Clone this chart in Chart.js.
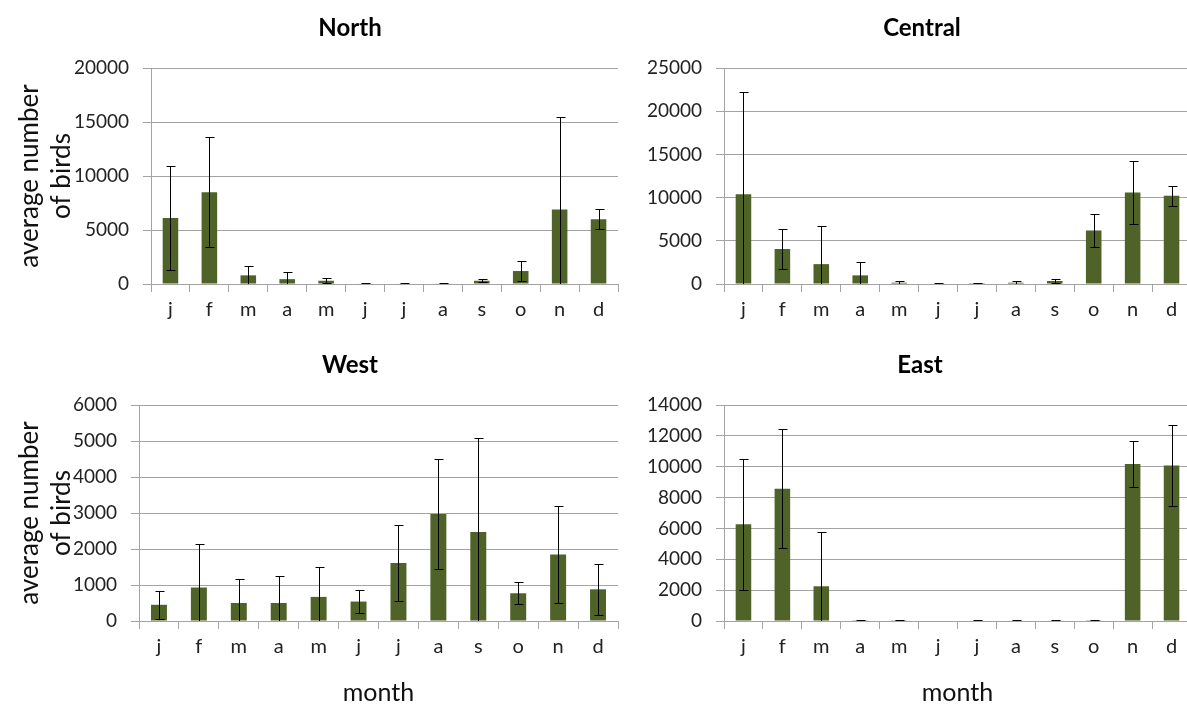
<!DOCTYPE html>
<html>
<head>
<meta charset="utf-8">
<script src="https://cdn.jsdelivr.net/npm/chart.js@4.4.1/dist/chart.umd.min.js"></script>
<style>
  html, body { margin: 0; padding: 0; background: #fff; overflow: hidden; width: 1187px; height: 704px; }
  .panel { position: absolute; }
</style>
</head>
<body>
<div class="panel" style="left:0;top:0;width:620px;height:340px"><canvas id="north"></canvas></div>
<div class="panel" style="left:620px;top:0;width:571px;height:340px"><canvas id="central"></canvas></div>
<div class="panel" style="left:0;top:340px;width:620px;height:380px"><canvas id="west"></canvas></div>
<div class="panel" style="left:620px;top:340px;width:571px;height:380px"><canvas id="east"></canvas></div>
<script>
// ---- data ----
const months = ['j', 'f', 'm', 'a', 'm', 'j', 'j', 'a', 's', 'o', 'n', 'd'];

const northMean = [6100, 8500, 800, 450, 300, 50, 50, 50, 300, 1200, 6900, 6000];
const northErr  = [4800, 5100, 850, 650, 250, 20, 20, 20, 130, 900, 8600, 950];

const centralMean = [10400, 4050, 2300, 1000, 150, 50, 100, 150, 350, 6200, 10600, 10200];
const centralErr  = [11800, 2300, 4400, 1550, 200, 20, 50, 250, 230, 1900, 3600, 1150];

const westMean = [450, 930, 500, 500, 670, 540, 1610, 2970, 2470, 770, 1850, 880];
const westErr  = [390, 1220, 680, 760, 830, 320, 1050, 1530, 2600, 310, 1350, 700];

const eastMean = [6270, 8570, 2250, 50, 50, 0, 30, 30, 30, 50, 10170, 10080];
const eastErr  = [4240, 3850, 3550, 20, 20, 0, 10, 10, 10, 20, 1470, 2650];

const panelTitles = ['North', 'Central', 'West', 'East'];
const yTitleLines = ['average number', 'of birds'];
const xTitleText = 'month';

// ---- styling ----
const FONT = 'Lato, "Open Sans", sans-serif';
const BAR = '#4F6228';
const GRID = '#a3a3a3';

const errorBars = {
  id: 'errorBars',
  afterDatasetsDraw(chart, args, opts) {
    const meta = chart.getDatasetMeta(0);
    const y = chart.scales.y;
    const err = opts.errors || [];
    const vals = chart.data.datasets[0].data;
    const ctx = chart.ctx;
    const a = chart.chartArea;
    ctx.save();
    ctx.beginPath();
    ctx.rect(a.left, a.top, a.right - a.left, a.bottom - a.top);
    ctx.clip();
    ctx.strokeStyle = '#000';
    ctx.lineWidth = 1;
    meta.data.forEach((bar, i) => {
      const e = err[i];
      if (!e) return;
      const x = Math.round(bar.x) + 0.5;
      const yt = Math.round(y.getPixelForValue(vals[i] + e)) + 0.5;
      const yb = Math.round(y.getPixelForValue(vals[i] - e)) + 0.5;
      ctx.beginPath();
      ctx.moveTo(x, yt); ctx.lineTo(x, yb);
      ctx.moveTo(x - 4, yt); ctx.lineTo(x + 5, yt);
      ctx.moveTo(x - 4, yb); ctx.lineTo(x + 5, yb);
      ctx.stroke();
    });
    ctx.restore();
  }
};

const panelTitle = {
  id: 'panelTitle',
  afterDraw(chart, args, o) {
    const ctx = chart.ctx;
    ctx.save();
    ctx.font = 'bold 24px ' + FONT;
    ctx.fillStyle = '#000';
    ctx.textAlign = 'center';
    ctx.textBaseline = 'middle';
    ctx.fillText(o.text, o.x, o.y);
    ctx.restore();
  }
};

function makeChart(id, cfg) {
  const el = document.getElementById(id);
  el.width = cfg.w; el.height = cfg.h;
  return new Chart(el, {
    type: 'bar',
    data: {
      labels: months,
      datasets: [{ data: cfg.mean, backgroundColor: BAR, borderWidth: 0,
        categoryPercentage: 1.0, barPercentage: 0.4 }]
    },
    plugins: [errorBars, panelTitle],
    options: {
      responsive: false,
      animation: false,
      events: [],
      layout: { padding: { top: cfg.top, left: 0, right: cfg.right, bottom: 0 } },
      plugins: {
        legend: { display: false },
        tooltip: { enabled: false },
        title: { display: false },
        errorBars: { errors: cfg.err },
        panelTitle: { text: cfg.title, x: cfg.tx, y: cfg.ty }
      },
      scales: {
        x: {
          afterFit: s => { s.height = cfg.xh; },
          grid: { drawOnChartArea: false, drawTicks: true, tickLength: 8, color: GRID, offset: true },
          border: { color: GRID, width: 1 },
          ticks: { color: '#222', font: { family: FONT, size: 20 }, padding: 6, maxRotation: 0, autoSkip: false },
          title: { display: cfg.xTitle, text: xTitleText, color: '#111',
            font: { family: FONT, size: 25 }, padding: { top: 0, bottom: 12 } }
        },
        y: {
          min: 0, max: cfg.max,
          afterFit: s => { s.width = cfg.yw; },
          grid: { color: GRID, tickLength: 8, drawTicks: true },
          border: { color: GRID, width: 1 },
          ticks: { stepSize: cfg.step, color: '#222', font: { family: FONT, size: 19 }, padding: 14,
            callback: v => String(v) },
          title: { display: cfg.yTitle, text: yTitleLines, color: '#111',
            font: { family: FONT, size: 26, lineHeight: 1.25 }, padding: { top: 13, bottom: 0 } }
        }
      }
    }
  });
}

makeChart('north',   { w: 620, h: 340, top: 68, right: 2, xh: 56, yw: 151, max: 20000, step: 5000,
  mean: northMean, err: northErr, title: panelTitles[0], tx: 350, ty: 28, yTitle: true, xTitle: false });
makeChart('central', { w: 571, h: 340, top: 68, right: 0, xh: 56, yw: 104, max: 25000, step: 5000,
  mean: centralMean, err: centralErr, title: panelTitles[1], tx: 302, ty: 28, yTitle: false, xTitle: false });
makeChart('west',    { w: 620, h: 380, top: 65, right: 2, xh: 99, yw: 139, max: 6000, step: 1000,
  mean: westMean, err: westErr, title: panelTitles[2], tx: 350, ty: 25, yTitle: true, xTitle: true });
makeChart('east',    { w: 571, h: 380, top: 65, right: 0, xh: 99, yw: 104, max: 14000, step: 2000,
  mean: eastMean, err: eastErr, title: panelTitles[3], tx: 300, ty: 25, yTitle: false, xTitle: true });
</script>
</body>
</html>
